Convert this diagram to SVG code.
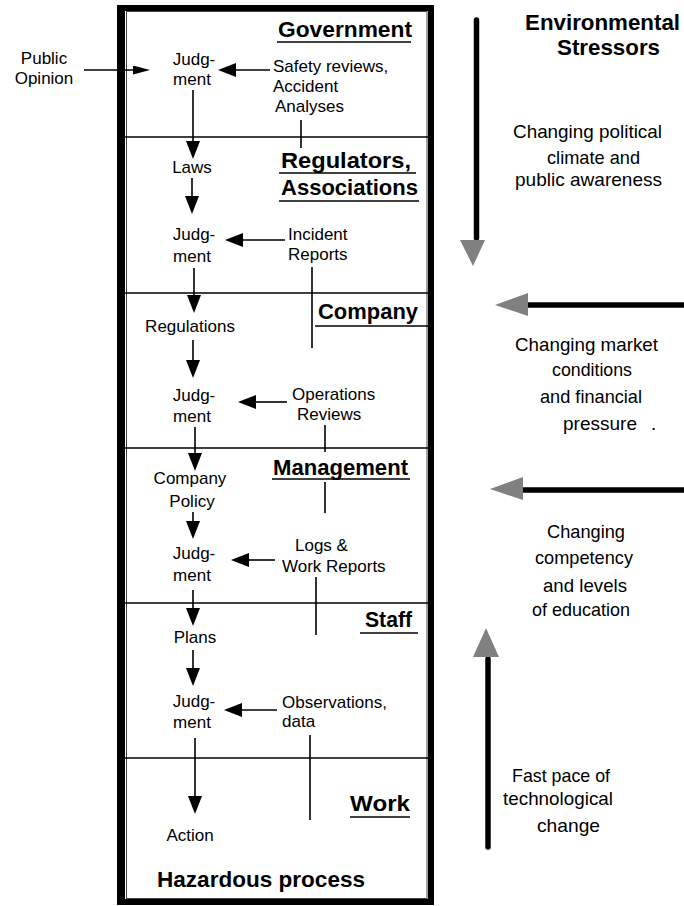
<svg xmlns="http://www.w3.org/2000/svg" width="684" height="906" viewBox="0 0 684 906">
<style>
text{font-family:"Liberation Sans",Arial,sans-serif;fill:#000}
.lb{font-size:17px}
.hd{font-size:22px;font-weight:bold}
.rt{font-size:19px}
.c{text-anchor:middle}
.ln{stroke:#000;stroke-width:1.6;fill:none}
.dv{stroke:#000;stroke-width:1.5}
.ul{stroke:#000;stroke-width:1.6}
.big{stroke:#000;stroke-width:5.5;stroke-linecap:round;fill:none}
.gh{fill:#808080}
</style>
<defs>
<marker id="ah" viewBox="0 0 18 14" refX="0" refY="7" markerWidth="18" markerHeight="14" markerUnits="userSpaceOnUse" orient="auto">
<path d="M0,0 L18,7 L0,14 Z" fill="#000"/>
</marker>
<marker id="ahs" viewBox="0 0 17 9" refX="0" refY="4.5" markerWidth="17" markerHeight="9" markerUnits="userSpaceOnUse" orient="auto">
<path d="M0,0 L17,4.5 L0,9 Z" fill="#000"/>
</marker>
</defs>
<rect width="684" height="906" fill="#fff"/>

<g id="frame">
<path fill="#000" fill-rule="evenodd" d="M117,5 H434 V905 H117 Z M125,11 H428 V899 H125 Z"/>
<rect x="126.5" y="11.5" width="300.5" height="887" fill="none" stroke="#444" stroke-width="1"/>
<line class="dv" x1="125" y1="137" x2="428" y2="137"/>
<line class="dv" x1="125" y1="293" x2="428" y2="293"/>
<line class="dv" x1="125" y1="448" x2="428" y2="448"/>
<line class="dv" x1="125" y1="603" x2="428" y2="603"/>
<line class="dv" x1="125" y1="758" x2="428" y2="758"/>
</g>

<g id="level-government">
<text class="hd" x="278" y="37" textLength="134" lengthAdjust="spacingAndGlyphs">Government</text>
<line class="ul" x1="277" y1="42" x2="411" y2="42"/>
</g>
<g id="level-regulators">
<text class="hd" x="281" y="168" textLength="130" lengthAdjust="spacingAndGlyphs">Regulators,</text>
<line class="ul" x1="279" y1="173" x2="416" y2="173"/>
<text class="hd" x="281" y="195" textLength="137" lengthAdjust="spacingAndGlyphs">Associations</text>
<line class="ul" x1="279" y1="201" x2="419" y2="201"/>
</g>
<g id="level-company">
<text class="hd" x="318" y="319" textLength="100" lengthAdjust="spacingAndGlyphs">Company</text>
<line class="ul" x1="315" y1="326" x2="428" y2="326"/>
</g>
<g id="level-management">
<text class="hd" x="273" y="475" textLength="135" lengthAdjust="spacingAndGlyphs">Management</text>
<line class="ul" x1="272" y1="479" x2="410" y2="479"/>
</g>
<g id="level-staff">
<text class="hd" x="365" y="627" textLength="47" lengthAdjust="spacingAndGlyphs">Staff</text>
<line class="ul" x1="360" y1="633" x2="418" y2="633"/>
</g>
<g id="level-work">
<text class="hd" x="350" y="811" textLength="60" lengthAdjust="spacingAndGlyphs">Work</text>
<line class="ul" x1="350" y1="817" x2="410" y2="817"/>
</g>
<g id="hazardous-process">
<text class="hd" x="157" y="887" textLength="208" lengthAdjust="spacingAndGlyphs">Hazardous process</text>
</g>

<g id="public-opinion">
<text class="lb c" x="44" y="64">Public</text>
<text class="lb c" x="44" y="84">Opinion</text>
</g>
<g id="judgment-1">
<text class="lb c" x="194" y="65">Judg-</text>
<text class="lb c" x="192" y="85">ment</text>
</g>
<g id="safety-reviews">
<text class="lb" x="273" y="72">Safety reviews,</text>
<text class="lb" x="273" y="92">Accident</text>
<text class="lb" x="275" y="112">Analyses</text>
</g>
<g id="laws">
<text class="lb c" x="192" y="173">Laws</text>
</g>
<g id="judgment-2">
<text class="lb c" x="194" y="240">Judg-</text>
<text class="lb c" x="192" y="262">ment</text>
</g>
<g id="incident-reports">
<text class="lb" x="288" y="240">Incident</text>
<text class="lb" x="288" y="260">Reports</text>
</g>
<g id="regulations">
<text class="lb c" x="190" y="332">Regulations</text>
</g>
<g id="judgment-3">
<text class="lb c" x="194" y="401">Judg-</text>
<text class="lb c" x="192" y="422">ment</text>
</g>
<g id="operations-reviews">
<text class="lb" x="292" y="400">Operations</text>
<text class="lb" x="297" y="420">Reviews</text>
</g>
<g id="company-policy">
<text class="lb c" x="190" y="484">Company</text>
<text class="lb c" x="192" y="507">Policy</text>
</g>
<g id="judgment-4">
<text class="lb c" x="194" y="559">Judg-</text>
<text class="lb c" x="192" y="581">ment</text>
</g>
<g id="logs-work-reports">
<text class="lb" x="295" y="551">Logs &amp;</text>
<text class="lb" x="282" y="572">Work Reports</text>
</g>
<g id="plans">
<text class="lb c" x="195" y="643">Plans</text>
</g>
<g id="judgment-5">
<text class="lb c" x="194" y="707">Judg-</text>
<text class="lb c" x="192" y="728">ment</text>
</g>
<g id="observations-data">
<text class="lb" x="282" y="708">Observations,</text>
<text class="lb" x="282" y="727">data</text>
</g>
<g id="action">
<text class="lb c" x="190" y="841">Action</text>
</g>

<g id="environmental-stressors">
<text class="hd" x="525" y="30" textLength="155" lengthAdjust="spacingAndGlyphs">Environmental</text>
<text class="hd" x="557" y="55" textLength="103" lengthAdjust="spacingAndGlyphs">Stressors</text>
</g>
<g id="stressor-political">
<text class="rt" x="513" y="138" textLength="149" lengthAdjust="spacingAndGlyphs">Changing political</text>
<text class="rt" x="547" y="164" textLength="93" lengthAdjust="spacingAndGlyphs">climate and</text>
<text class="rt" x="515" y="186" textLength="147" lengthAdjust="spacingAndGlyphs">public awareness</text>
</g>
<g id="stressor-market">
<text class="rt" x="515" y="351" textLength="143" lengthAdjust="spacingAndGlyphs">Changing market</text>
<text class="rt" x="552" y="376" textLength="80" lengthAdjust="spacingAndGlyphs">conditions</text>
<text class="rt" x="540" y="403" textLength="102" lengthAdjust="spacingAndGlyphs">and financial</text>
<text class="rt" x="563" y="430" textLength="74" lengthAdjust="spacingAndGlyphs">pressure</text>
<text class="rt" x="651" y="430">.</text>
</g>
<g id="stressor-competency">
<text class="rt" x="547" y="538" textLength="78" lengthAdjust="spacingAndGlyphs">Changing</text>
<text class="rt" x="535" y="564" textLength="98" lengthAdjust="spacingAndGlyphs">competency</text>
<text class="rt" x="543" y="592" textLength="84" lengthAdjust="spacingAndGlyphs">and levels</text>
<text class="rt" x="532" y="616" textLength="98" lengthAdjust="spacingAndGlyphs">of education</text>
</g>
<g id="stressor-technology">
<text class="rt" x="512" y="782" textLength="98" lengthAdjust="spacingAndGlyphs">Fast pace of</text>
<text class="rt" x="503" y="805" textLength="110" lengthAdjust="spacingAndGlyphs">technological</text>
<text class="rt" x="537" y="832" textLength="63" lengthAdjust="spacingAndGlyphs">change</text>
</g>

<g id="connectors">
<line class="ln" x1="84" y1="70" x2="133" y2="70" marker-end="url(#ahs)"/>
<line class="ln" x1="270" y1="70" x2="236" y2="70" marker-end="url(#ah)"/>
<line class="ln" x1="301" y1="120" x2="301" y2="148"/>
<line class="ln" x1="193" y1="90" x2="193" y2="141" marker-end="url(#ah)"/>
<line class="ln" x1="192" y1="178" x2="192" y2="196" marker-end="url(#ah)"/>
<line class="ln" x1="285" y1="240" x2="243" y2="240" marker-end="url(#ah)"/>
<line class="ln" x1="312" y1="267" x2="312" y2="348"/>
<line class="ln" x1="194" y1="268" x2="194" y2="295" marker-end="url(#ah)"/>
<line class="ln" x1="193" y1="340" x2="193" y2="360" marker-end="url(#ah)"/>
<line class="ln" x1="287" y1="402" x2="256" y2="402" marker-end="url(#ah)"/>
<line class="ln" x1="325" y1="425" x2="325" y2="452"/>
<line class="ln" x1="195" y1="427" x2="195" y2="453" marker-end="url(#ah)"/>
<line class="ln" x1="325" y1="482" x2="325" y2="513"/>
<line class="ln" x1="193" y1="512" x2="193" y2="521" marker-end="url(#ah)"/>
<line class="ln" x1="275" y1="560" x2="249" y2="560" marker-end="url(#ah)"/>
<line class="ln" x1="316" y1="577" x2="316" y2="635"/>
<line class="ln" x1="193" y1="590" x2="193" y2="608" marker-end="url(#ah)"/>
<line class="ln" x1="193" y1="650" x2="193" y2="668" marker-end="url(#ah)"/>
<line class="ln" x1="277" y1="710" x2="242" y2="710" marker-end="url(#ah)"/>
<line class="ln" x1="310" y1="735" x2="310" y2="820"/>
<line class="ln" x1="195" y1="738" x2="195" y2="796" marker-end="url(#ah)"/>

<line class="big" x1="476.5" y1="20" x2="476.5" y2="238"/>
<polygon class="gh" points="460,240 485,240 473,266"/>
<line class="big" x1="527" y1="305" x2="690" y2="305"/>
<polygon class="gh" points="495,305 528,293 528,316"/>
<line class="big" x1="522" y1="490" x2="690" y2="490"/>
<polygon class="gh" points="490,489 523,477 523,500"/>
<line class="big" x1="488" y1="659" x2="488" y2="847"/>
<polygon class="gh" points="473,657 499,657 486,628"/>
</g>
</svg>
